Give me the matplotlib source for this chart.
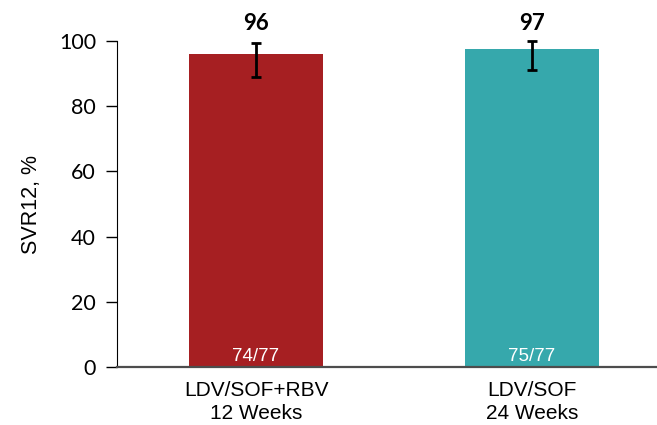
import numpy as np
from matplotlib import pyplot as plt

groups = ["LDV/SOF+RBV\n12 Weeks", "LDV/SOF\n24 Weeks"]
svr = [96.1, 97.4]
labels_top = ["96", "97"]
counts = ["74/77", "75/77"]
ci_low = [89.0, 91.0]
ci_high = [99.4, 99.9]
colors = ["#A61F22", "#36A8AC"]


def drawChart():
    fig = plt.figure(figsize=(6.57, 4.25), dpi=100)
    ax = fig.add_axes([0.178, 0.1365, 0.822, 0.767])

    x = np.arange(len(groups))
    ax.bar(x, svr, width=0.486, color=colors, zorder=2)

    yerr = [np.array(svr) - np.array(ci_low), np.array(ci_high) - np.array(svr)]
    ax.errorbar(x, svr, yerr=yerr, fmt="none", ecolor="black", elinewidth=2,
                capsize=3.5, capthick=2, zorder=3, clip_on=False)

    for xi, top, cnt in zip(x, labels_top, counts):
        ax.text(xi, 105.3, top, ha="center", va="center", fontsize=16,
                fontweight="bold", family="Lato", clip_on=False)
        ax.text(xi, 0.6, cnt, ha="center", va="bottom", fontsize=13.5,
                color="white", family="Liberation Sans")

    ax.set_xlim(-0.504, 1.453)
    ax.set_ylim(0, 100)
    ax.set_yticks(range(0, 101, 20))
    ax.set_xticks(x)
    ax.set_xticklabels(groups, family="Liberation Sans", fontsize=15,
                       linespacing=1.3)
    ax.tick_params(axis="x", length=0, pad=10)
    ax.tick_params(axis="y", direction="out", length=8, width=1, pad=7,
                   labelsize=15.5)
    for lab in ax.get_yticklabels():
        lab.set_family("Lato")

    ax.set_ylabel("SVR12, %", family="Liberation Sans", fontsize=15.5,
                  labelpad=12)

    ax.spines["top"].set_visible(False)
    ax.spines["right"].set_visible(False)
    ax.spines["left"].set_color("black")
    ax.spines["bottom"].set_color("#4d4d4d")
    ax.spines["bottom"].set_linewidth(1.6)

    fig.savefig("out.png", dpi=100)


if __name__ == "__main__":
    drawChart()
